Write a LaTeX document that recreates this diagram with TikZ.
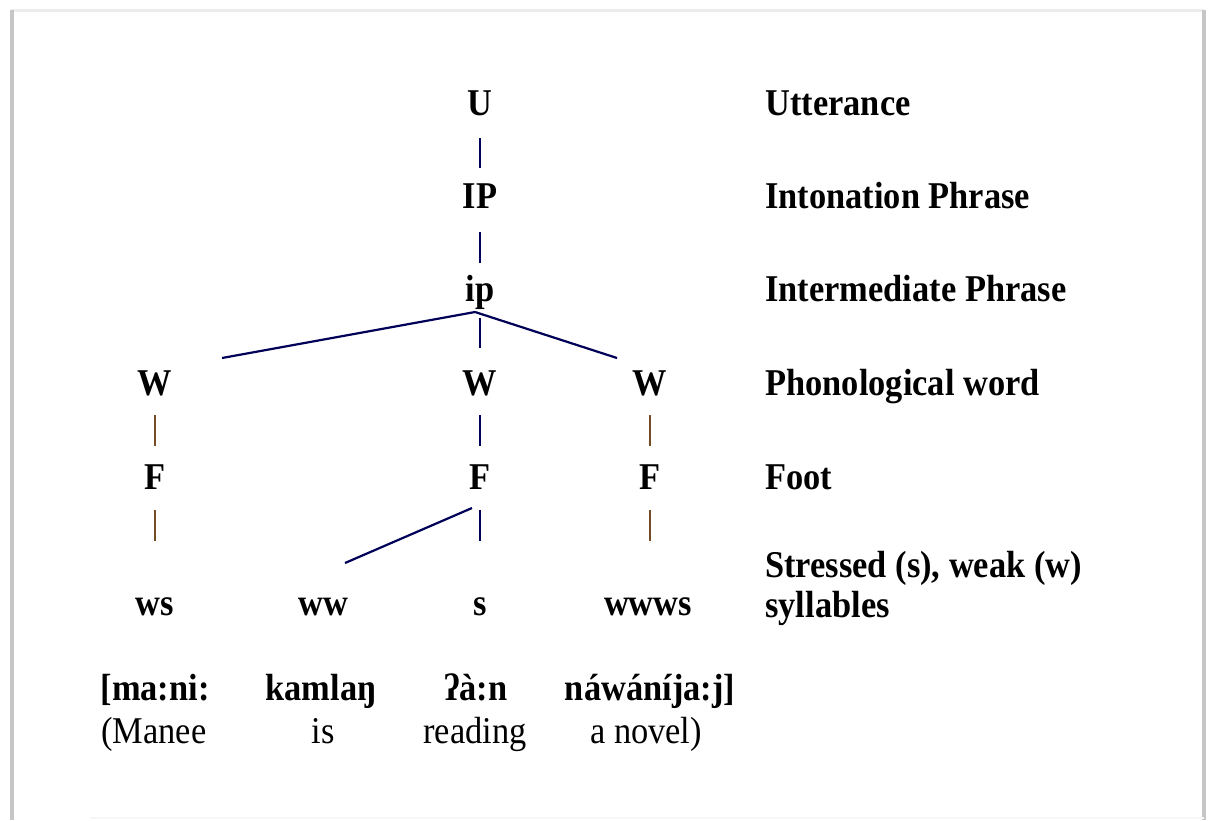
\documentclass[tikz,border=0pt]{standalone}
\usepackage{fontspec}
\setmainfont{Liberation Serif}
\begin{document}
\begin{tikzpicture}[x=0.5pt,y=-0.5pt,
  lbl/.style={font=\fontsize{17.2}{20}\selectfont\bfseries, inner sep=0pt, yscale=1.1, anchor=base},
  gloss/.style={font=\fontsize{17.2}{20}\selectfont, inner sep=0pt, yscale=1.1, anchor=base},
  tier/.style={lbl, anchor=base west},
  navy/.style={draw=blue!35!black, line width=1.1pt},
  brown/.style={draw=brown!60!black, line width=1.1pt}]
\useasboundingbox (0,0) rectangle (1208,820);
% page frame with a soft shadow
\fill[white] (0,0) rectangle (1208,820);
\draw[gray!15, line width=1.5pt] (11,10) -- (1204,10);
\draw[gray!45, line width=1.6pt] (12,10) -- (12,820);
\draw[gray!45, line width=1.6pt] (1204,10) -- (1204,820);
\draw[gray!6, line width=0.8pt] (90,818) -- (1204,818);

% tree nodes
\node[lbl] (U)  at (480,115) {U};
\node[lbl] (IP) at (480,208) {IP};
\node[lbl] (ip) at (480,301) {ip};
\node[lbl] (W1) at (155,395) {W};
\node[lbl] (W2) at (480,395) {W};
\node[lbl] (W3) at (650,395) {W};
\node[lbl] (F1) at (155,489) {F};
\node[lbl] (F2) at (480,489) {F};
\node[lbl] (F3) at (650,489) {F};
\node[lbl] (S1) at (155,615) {ws};
\node[lbl] (S2) at (323,615) {ww};
\node[lbl] (S3) at (480,615) {s};
\node[lbl] (S4) at (648,615) {wwws};

% transcription and gloss
\node[lbl] (T1) at (155,700) {[ma:ni:};
\node[lbl] (T2) at (321,700) {kamlaŋ};
\node[lbl] (T3) at (476,700) {ʔà:n};
\node[lbl] (T4) at (650,700) {náwáníja:j]};
\node[gloss] (G1) at (154,743) {(Manee};
\node[gloss] (G2) at (323,743) {is};
\node[gloss] (G3) at (475,743) {reading};
\node[gloss] (G4) at (646,743) {a novel)};

% tier names
\node[tier] (tU)  at (765,115) {Utterance};
\node[tier] (tIP) at (765,208) {Intonation Phrase};
\node[tier] (tip) at (765,301) {Intermediate Phrase};
\node[tier] (tW)  at (765,395) {Phonological word};
\node[tier] (tF)  at (765,489) {Foot};
\node[tier] (tS)  at (765,577) {Stressed (s), weak (w)};
\node[tier] (tS2) at (765,617) {syllables};

% branch points and free ends
\coordinate (ipfoot) at (475,312);
\coordinate (leftend) at (222,358);
\coordinate (rightend) at (617,358);
\coordinate (Ffoot) at (472,508);
\coordinate (wwend) at (345,563);

% vertical links, hanging below each parent
\draw[navy] ([yshift=-11.5pt]U.base) -- ([yshift=-26.5pt]U.base);
\draw[navy] ([yshift=-12pt]IP.base) -- ([yshift=-27.5pt]IP.base);
\draw[navy] ([yshift=-8.5pt]ip.base) -- ([yshift=-23.5pt]ip.base);
\draw[navy] ([yshift=-10pt]W2.base) -- ([yshift=-25.5pt]W2.base);
\draw[navy] ([yshift=-10.5pt]F2.base) -- ([yshift=-26pt]F2.base);
\draw[brown] ([yshift=-10pt]W1.base) -- ([yshift=-25.5pt]W1.base);
\draw[brown] ([yshift=-10pt]W3.base) -- ([yshift=-25.5pt]W3.base);
\draw[brown] ([yshift=-10.5pt]F1.base) -- ([yshift=-26pt]F1.base);
\draw[brown] ([yshift=-10.5pt]F3.base) -- ([yshift=-26pt]F3.base);

% diagonal links
\draw[navy] (ipfoot) -- (leftend);
\draw[navy] (ipfoot) -- (rightend);
\draw[navy] (Ffoot) -- (wwend);
\end{tikzpicture}
\end{document}
